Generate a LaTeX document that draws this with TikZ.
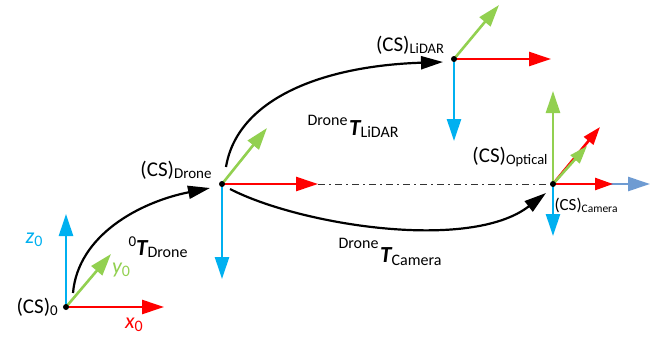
\documentclass[tikz,border=0pt]{standalone}
\usepackage{fontspec}
\setmainfont{Carlito}
\usetikzlibrary{arrows.meta}
\definecolor{axcyan}{RGB}{0,176,240}
\definecolor{axred}{RGB}{255,0,0}
\definecolor{axgreen}{RGB}{146,208,80}
\definecolor{axsteel}{RGB}{110,155,210}
\newcommand\fs[1]{\fontsize{#1}{#1}\selectfont}
\begin{document}
\begin{tikzpicture}[x=1pt,y=-1pt,
  axis/.style={line width=2.6pt,-{Triangle[length=22pt,width=14pt]}},
  smallaxis/.style={line width=2.6pt,-{Triangle[length=18pt,width=12pt]}},
  trans/.style={line width=2.2pt,-{Triangle[length=22pt,width=13pt]}},
  origdot/.style={circle,fill=black,inner sep=0pt,minimum size=6pt},
  lbl/.style={inner sep=0pt},
  chain/.style={line width=1pt,black!80,dash pattern=on 7pt off 4pt on 2pt off 4pt}]
\useasboundingbox (0,0) rectangle (661,345);
% origins
\coordinate (O0) at (66,307);
\coordinate (OD) at (222,184);
\coordinate (OL) at (454,59);
\coordinate (OC) at (553,184);
% tips
\coordinate (z0t) at (66,214);
\coordinate (x0t) at (164,307);
\coordinate (y0t) at (111,254);
\coordinate (zDt) at (222,279);
\coordinate (xDt) at (318,184);
\coordinate (yDt) at (267,128);
\coordinate (zLt) at (454,141);
\coordinate (xLt) at (551,59);
\coordinate (yLt) at (499,5);
\coordinate (zCt) at (553,236);
\coordinate (xCt) at (613,184);
\coordinate (bCt) at (650,184);
\coordinate (yCt) at (553,91);
\coordinate (gCt) at (587,146);
\coordinate (rCt) at (600,127);
% CS0
\draw[axis,axcyan] (O0) -- (z0t);
\draw[axis,axred] (O0) -- (x0t);
\draw[axis,axgreen] (O0) -- (y0t);
\node[origdot] (d0) at (O0) {};
% Drone
\draw[chain] (xDt) -- (OC);
\draw[axis,axcyan] (OD) -- (zDt);
\draw[axis,axred] (OD) -- (xDt);
\draw[axis,axgreen] (OD) -- (yDt);
\node[origdot] (dD) at (OD) {};
% LiDAR
\draw[axis,axgreen] (OL) -- (yLt);
\draw[axis,axcyan] (OL) -- (zLt);
\draw[axis,axred] (OL) -- (xLt);
\node[origdot] (dL) at (OL) {};
% Camera / Optical
\draw[axis,axcyan] (OC) -- (zCt);
\draw[axis,axsteel] (OC) -- (bCt);
\draw[smallaxis,axred] (OC) -- (xCt);
\draw[smallaxis,axred] (OC) -- (rCt);
\draw[smallaxis,axgreen] (OC) -- (gCt);
\draw[axis,axgreen] (OC) -- (yCt);
\node[origdot] (dC) at (OC) {};
% transformation curves
\coordinate (c1s) at (73,293);
\coordinate (c1e) at (210,188);
\coordinate (c2s) at (226,167);
\coordinate (c2e) at (443,62);
\coordinate (c3s) at (230,189);
\coordinate (c3e) at (546,193);
\draw[trans] (c1s) .. controls (78,235) and (140,202) .. (c1e);
\draw[trans] (c2s) .. controls (237,100) and (320,66) .. (c2e);
\draw[trans] (c3s) .. controls (300,225) and (470,252) .. (c3e);
% labels
\node[lbl,anchor=east] (l0) at (58,307) {\fs{21}(CS)\raisebox{-2pt}{\fs{15}0}};
\node[lbl,text=axcyan] (lz) at (34,240) {\fs{22}\itshape z\raisebox{-3pt}{\fs{16}\upshape 0}};
\node[lbl,text=axgreen] (ly) at (121,270) {\fs{22}\itshape y\raisebox{-3pt}{\fs{16}\upshape 0}};
\node[lbl,text=axred] (lx) at (134,325) {\fs{22}\itshape x\raisebox{-3pt}{\fs{16}\upshape 0}};
\node[lbl] (lD) at (176,170) {\fs{21}(CS)\raisebox{-2pt}{\fs{15}Drone}};
\node[lbl] (lL) at (410,45) {\fs{21}(CS)\raisebox{-2pt}{\fs{14.5}LiDAR}};
\node[lbl] (lO) at (510,157) {\fs{21}(CS)\raisebox{-2pt}{\fs{14.5}Optical}};
\node[lbl] (lC) at (586,205) {\fs{17}(CS)\raisebox{-2pt}{\fs{11.5}Camera}};
\node[lbl] (t0) at (158,247) {\raisebox{9pt}{\fs{15}0}{\fs{23}\bfseries\itshape T}\raisebox{-2pt}{\fs{16}Drone}};
\node[lbl] (tL) at (353,126) {\raisebox{10pt}{\fs{16}Drone}\,{\fs{23}\bfseries\itshape T}\raisebox{-2pt}{\fs{16}LiDAR}};
\node[lbl] (tC) at (390,252) {\raisebox{14pt}{\fs{16}Drone}\,{\fs{23}\bfseries\itshape T}\raisebox{-3pt}{\fs{16}Camera}};
\end{tikzpicture}
\end{document}
